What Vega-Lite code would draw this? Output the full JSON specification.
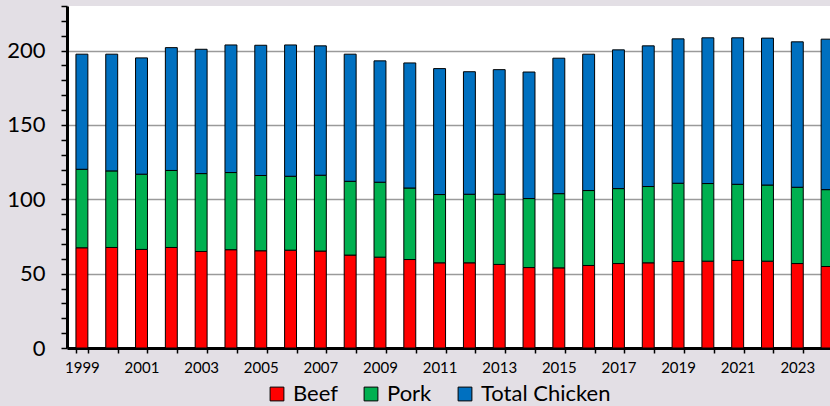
{
  "$schema": "https://vega.github.io/schema/vega-lite/v6.json",
  "autosize": "none",
  "width": 763,
  "height": 342,
  "padding": {"left": 67, "top": 6, "right": 0, "bottom": 58},
  "background": "#e3dfe5",
  "config": {
    "font": "Lato",
    "view": {"stroke": null, "fill": "white"}
  },
  "datasets": {
    "meat": [
      {"year": 1999, "Beef": 67.4, "Pork": 52.8, "Total Chicken": 77.4},
      {"year": 2000, "Beef": 67.6, "Pork": 51.5, "Total Chicken": 78.5},
      {"year": 2001, "Beef": 66.3, "Pork": 50.6, "Total Chicken": 78.2},
      {"year": 2002, "Beef": 67.6, "Pork": 51.8, "Total Chicken": 82.6},
      {"year": 2003, "Beef": 64.9, "Pork": 52.4, "Total Chicken": 83.6},
      {"year": 2004, "Beef": 66.1, "Pork": 51.9, "Total Chicken": 85.8},
      {"year": 2005, "Beef": 65.4, "Pork": 50.6, "Total Chicken": 87.6},
      {"year": 2006, "Beef": 65.8, "Pork": 49.7, "Total Chicken": 88.3},
      {"year": 2007, "Beef": 65.2, "Pork": 51.0, "Total Chicken": 87.0},
      {"year": 2008, "Beef": 62.5, "Pork": 49.6, "Total Chicken": 85.5},
      {"year": 2009, "Beef": 61.1, "Pork": 50.4, "Total Chicken": 81.6},
      {"year": 2010, "Beef": 59.5, "Pork": 48.1, "Total Chicken": 84.1},
      {"year": 2011, "Beef": 57.3, "Pork": 45.9, "Total Chicken": 84.7},
      {"year": 2012, "Beef": 57.3, "Pork": 46.1, "Total Chicken": 82.4},
      {"year": 2013, "Beef": 56.2, "Pork": 47.2, "Total Chicken": 83.8},
      {"year": 2014, "Beef": 54.1, "Pork": 46.4, "Total Chicken": 85.1},
      {"year": 2015, "Beef": 53.9, "Pork": 49.9, "Total Chicken": 91.1},
      {"year": 2016, "Beef": 55.5, "Pork": 50.4, "Total Chicken": 91.7},
      {"year": 2017, "Beef": 56.8, "Pork": 50.4, "Total Chicken": 93.3},
      {"year": 2018, "Beef": 57.3, "Pork": 51.3, "Total Chicken": 94.6},
      {"year": 2019, "Beef": 58.2, "Pork": 52.6, "Total Chicken": 97.1},
      {"year": 2020, "Beef": 58.4, "Pork": 52.2, "Total Chicken": 98.0},
      {"year": 2021, "Beef": 58.9, "Pork": 51.2, "Total Chicken": 98.5},
      {"year": 2022, "Beef": 58.4, "Pork": 51.2, "Total Chicken": 98.8},
      {"year": 2023, "Beef": 56.8, "Pork": 51.3, "Total Chicken": 97.8},
      {"year": 2024, "Beef": 54.8, "Pork": 51.7, "Total Chicken": 101.2}
    ]
  },
  "layer": [
    {
      "data": {"name": "meat"},
      "transform": [
        {"fold": ["Beef", "Pork", "Total Chicken"], "as": ["meat", "value"]}
      ],
      "mark": {"type": "bar", "stroke": "black", "strokeWidth": 1},
      "encoding": {
        "x": {
          "field": "year",
          "type": "ordinal",
          "title": null,
          "scale": {"range": [0, 775], "paddingInner": 0.6, "paddingOuter": 0.3},
          "axis": {
            "tickBand": "extent",
            "labelAngle": 0,
            "labelExpr": "datum.value % 2 == 1 ? datum.label : ''",
            "labelFontSize": 15,
            "labelColor": "black",
            "labelPadding": 7,
            "labelOverlap": false,
            "domainColor": "black",
            "domainWidth": 3,
            "tickColor": "black",
            "tickWidth": 1.5,
            "tickSize": 5,
            "grid": false
          }
        },
        "y": {
          "field": "value",
          "type": "quantitative",
          "stack": "zero",
          "title": null,
          "scale": {"domain": [0, 230], "nice": false},
          "axis": {
            "values": [0, 10, 20, 30, 40, 50, 60, 70, 80, 90, 100, 110, 120, 130, 140, 150, 160, 170, 180, 190, 200, 210, 220, 230],
            "tickCount": 100,
            "labelExpr": "datum.value % 50 == 0 ? datum.label : ''",
            "labelOverlap": false,
            "labelFontSize": 22,
            "labelColor": "black",
            "labelPadding": 16,
            "domainColor": "black",
            "domainWidth": 3,
            "tickColor": "black",
            "tickWidth": 1.5,
            "tickSize": 6,
            "grid": true,
            "gridColor": "#9a9a9a",
            "gridWidth": 1.3,
            "gridOpacity": {"condition": {"test": "datum.value % 50 == 0 && datum.value > 0", "value": 1}, "value": 0}
          }
        },
        "order": {"field": "meat", "sort": "ascending"},
        "color": {
          "field": "meat",
          "type": "nominal",
          "sort": ["Beef", "Pork", "Total Chicken"],
          "scale": {"domain": ["Beef", "Pork", "Total Chicken"], "range": ["#ff0000", "#00b050", "#0070c0"]},
          "legend": {
            "title": null,
            "orient": "none",
            "direction": "horizontal",
            "legendX": 199,
            "legendY": 377,
            "padding": 0,
            "symbolType": "square",
            "symbolSize": 190,
            "symbolStrokeColor": "black",
            "symbolStrokeWidth": 1,
            "symbolOpacity": 1,
            "labelFontSize": 22,
            "labelColor": "black",
            "labelOffset": 5,
            "columnPadding": 22
          }
        }
      }
    },
    {
      "mark": {"type": "rule", "color": "black", "strokeWidth": 3},
      "encoding": {"y": {"datum": 230}}
    }
  ]
}
